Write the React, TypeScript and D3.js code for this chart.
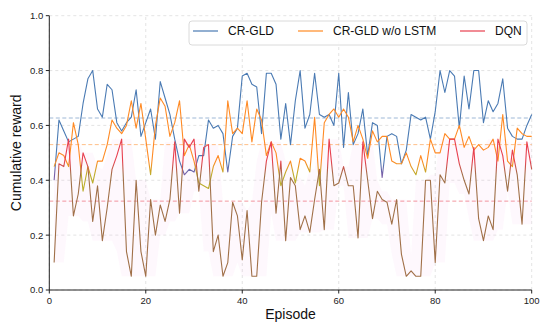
import React from 'react';
import * as d3 from 'd3';

const episodes = d3.range(1, 101);

const crgld = [
  0.40, 0.62, 0.58, 0.54, 0.55, 0.56, 0.68, 0.77, 0.80, 0.66,
  0.63, 0.75, 0.73, 0.61, 0.58, 0.61, 0.63, 0.73, 0.56, 0.61,
  0.66, 0.55, 0.76, 0.70, 0.64, 0.55, 0.47, 0.42, 0.44, 0.43,
  0.49, 0.49, 0.62, 0.59, 0.60, 0.57, 0.43, 0.56, 0.59, 0.78,
  0.79, 0.75, 0.74, 0.57, 0.79, 0.79, 0.75, 0.55, 0.68, 0.53,
  0.69, 0.80, 0.59, 0.64, 0.79, 0.64, 0.63, 0.64, 0.60, 0.79,
  0.52, 0.72, 0.53, 0.57, 0.66, 0.49, 0.61, 0.60, 0.41, 0.56,
  0.57, 0.56, 0.46, 0.51, 0.64, 0.63, 0.62, 0.63, 0.55, 0.65,
  0.80, 0.72, 0.80, 0.78, 0.59, 0.78, 0.66, 0.80, 0.80, 0.61,
  0.69, 0.65, 0.68, 0.77, 0.59, 0.56, 0.55, 0.55, 0.60, 0.64,
];

const crgldNoLstm = [
  0.45, 0.50, 0.49, 0.45, 0.61, 0.53, 0.36, 0.45, 0.39, 0.47,
  0.47, 0.53, 0.62, 0.59, 0.57, 0.60, 0.69, 0.59, 0.68, 0.55,
  0.42, 0.60, 0.70, 0.67, 0.56, 0.61, 0.69, 0.49, 0.53, 0.47,
  0.39, 0.38, 0.37, 0.45, 0.49, 0.43, 0.69, 0.57, 0.59, 0.57,
  0.69, 0.54, 0.66, 0.62, 0.49, 0.54, 0.50, 0.38, 0.43, 0.47,
  0.39, 0.48, 0.47, 0.43, 0.63, 0.38, 0.61, 0.64, 0.66, 0.63,
  0.66, 0.63, 0.54, 0.60, 0.55, 0.48, 0.58, 0.54, 0.56, 0.56,
  0.47, 0.46, 0.46, 0.50, 0.45, 0.42, 0.49, 0.43, 0.55, 0.50,
  0.50, 0.57, 0.55, 0.55, 0.60, 0.52, 0.56, 0.51, 0.53, 0.51,
  0.52, 0.55, 0.47, 0.64, 0.47, 0.45, 0.59, 0.57, 0.56, 0.56,
];

const dqn = [
  0.10, 0.46, 0.45, 0.55, 0.27, 0.35, 0.50, 0.45, 0.25, 0.38,
  0.18, 0.30, 0.44, 0.49, 0.55, 0.14, 0.05, 0.40, 0.14, 0.05,
  0.33, 0.20, 0.31, 0.25, 0.33, 0.54, 0.28, 0.55, 0.52, 0.55,
  0.36, 0.52, 0.53, 0.14, 0.20, 0.05, 0.10, 0.32, 0.27, 0.11,
  0.29, 0.05, 0.05, 0.32, 0.47, 0.54, 0.28, 0.47, 0.18, 0.41,
  0.38, 0.22, 0.27, 0.21, 0.33, 0.44, 0.22, 0.55, 0.38, 0.39,
  0.45, 0.38, 0.38, 0.19, 0.54, 0.40, 0.26, 0.36, 0.33, 0.32,
  0.24, 0.33, 0.13, 0.05, 0.07, 0.05, 0.05, 0.40, 0.40, 0.10,
  0.42, 0.39, 0.55, 0.55, 0.46, 0.40, 0.35, 0.52, 0.26, 0.18,
  0.27, 0.22, 0.55, 0.49, 0.36, 0.51, 0.42, 0.24, 0.54, 0.44,
];

const seriesNames = ['CR-GLD', 'CR-GLD w/o LSTM', 'DQN'];
const meanValues = [0.627, 0.53, 0.324];
const xTicks = [0, 20, 40, 60, 80, 100];
const yTicks = [0, 0.2, 0.4, 0.6, 0.8, 1.0];

const colors = ['#4a7ab3', '#ff8a24', '#e8404f'];
const lowColors = ['#7a5fa8', '#bcae2c', '#a07048'];

export default function App() {
  const W = 550;
  const H = 332;
  const x = d3.scaleLinear().domain([0, 100]).range([49.3, 531.7]);
  const y = d3.scaleLinear().domain([0, 1]).range([290, 15.7]);
  const allSeries = [crgld, crgldNoLstm, dqn];

  const line = d3
    .line<number>()
    .x((_, i) => x(episodes[i]))
    .y((d) => y(d));

  const band = d3
    .area<number>()
    .x((_, i) => x(episodes[i]))
    .y0((_, i) => y(d3.min(dqn.slice(Math.max(0, i - 2), i + 3)) as number))
    .y1((_, i) => y(d3.max(dqn.slice(Math.max(0, i - 2), i + 3)) as number));

  const font = 'Liberation Sans, Arial, sans-serif';
  const [x0, x1] = x.range();
  const [y0, y1] = y.range();

  return (
    <svg
      width={W}
      height={H}
      style={{ position: 'absolute', left: 0, top: 0, background: '#fff' }}
      fontFamily={font}
    >
      <defs>
        {colors.map((c, k) => (
          <linearGradient
            key={k}
            id={`g${k}`}
            gradientUnits="userSpaceOnUse"
            x1={0}
            x2={0}
            y1={y(0.47)}
            y2={y(0.42)}
          >
            <stop offset="0" stopColor={c} />
            <stop offset="1" stopColor={lowColors[k]} />
          </linearGradient>
        ))}
      </defs>
      <rect x={0} y={0} width={W} height={H} fill="#fff" />
      {xTicks.map((t) => (
        <line
          key={'gx' + t}
          x1={x(t)}
          x2={x(t)}
          y1={y0}
          y2={y1}
          stroke="#dcdcdc"
          strokeWidth={0.8}
          strokeDasharray="3,3"
        />
      ))}
      {yTicks.map((t) => (
        <line
          key={'gy' + t}
          x1={x0}
          x2={x1}
          y1={y(t)}
          y2={y(t)}
          stroke="#dcdcdc"
          strokeWidth={0.8}
          strokeDasharray="3,3"
        />
      ))}
      <path d={band(dqn) as string} fill="#f7c8ec" opacity={0.13} />
      {meanValues.map((m, k) => (
        <line
          key={'m' + k}
          x1={x0}
          x2={x1}
          y1={y(m)}
          y2={y(m)}
          stroke={colors[k]}
          strokeOpacity={0.6}
          strokeWidth={0.9}
          strokeDasharray="4,2.5"
        />
      ))}
      {allSeries.map((s, k) => (
        <path
          key={'s' + k}
          d={line(s) as string}
          fill="none"
          stroke={`url(#g${k})`}
          strokeWidth={1.1}
          strokeLinejoin="round"
        />
      ))}
      <line x1={x0} x2={x0} y1={y0} y2={y1} stroke="#222" strokeWidth={1} />
      <line x1={x0} x2={x1} y1={y0} y2={y0} stroke="#222" strokeWidth={1} />
      {xTicks.map((t) => (
        <g key={'tx' + t}>
          <line x1={x(t)} x2={x(t)} y1={y0} y2={y0 + 3.5} stroke="#222" />
          <text x={x(t)} y={y0 + 14} fontSize={9.5} textAnchor="middle" fill="#222">
            {t}
          </text>
        </g>
      ))}
      {yTicks.map((t) => (
        <g key={'ty' + t}>
          <line x1={x0 - 3.5} x2={x0} y1={y(t)} y2={y(t)} stroke="#222" />
          <text x={x0 - 6} y={y(t) + 3.4} fontSize={9.5} textAnchor="end" fill="#222">
            {t.toFixed(1)}
          </text>
        </g>
      ))}
      <text x={(x0 + x1) / 2} y={319} fontSize={14} textAnchor="middle" fill="#111">
        Episode
      </text>
      <text
        transform={`translate(20.5, ${(y0 + y1) / 2}) rotate(-90)`}
        fontSize={14}
        textAnchor="middle"
        fill="#111"
      >
        Cumulative reward
      </text>
      <rect
        x={189}
        y={21}
        width={338}
        height={24}
        rx={3}
        fill="#fff"
        fillOpacity={0.85}
        stroke="#d0d0d0"
        strokeWidth={0.8}
      />
      {seriesNames.map((n, k) => {
        const lx = [193, 298, 460][k];
        return (
          <g key={'l' + k}>
            <line x1={lx} x2={lx + 25} y1={31} y2={31} stroke={colors[k]} strokeWidth={1.2} />
            <text x={lx + 35} y={35.3} fontSize={12} fill="#111">
              {n}
            </text>
          </g>
        );
      })}
    </svg>
  );
}
